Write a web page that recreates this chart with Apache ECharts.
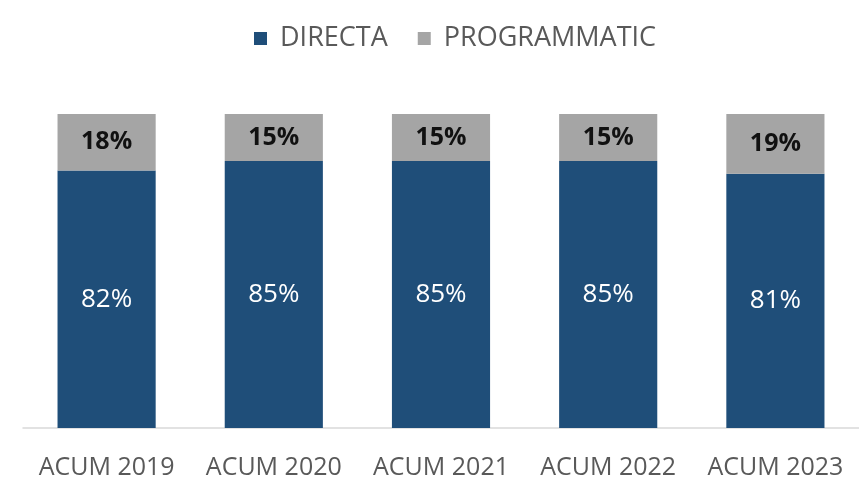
<!DOCTYPE html>
<html>
<head>
<meta charset="utf-8">
<script src="https://cdn.jsdelivr.net/npm/echarts@6/dist/echarts.min.js"></script>
<style>
  html, body { margin: 0; padding: 0; background: #fff; }
  #chart { width: 859px; height: 483px; }
</style>
</head>
<body>
<div id="chart"></div>
<script>
const categories = ['ACUM 2019', 'ACUM 2020', 'ACUM 2021', 'ACUM 2022', 'ACUM 2023']
const directa = [82, 85, 85, 85, 81]
const programmatic = [18, 15, 15, 15, 19]

const chart = echarts.init(document.getElementById('chart'))
const font = 'Open Sans, Noto Sans, sans-serif'

chart.setOption({
  animation: false,
  legend: {
    data: ['DIRECTA', 'PROGRAMMATIC'],
    top: 20,
    left: 249,
    itemWidth: 13,
    itemHeight: 13,
    itemGap: 30,
    icon: 'rect',
    textStyle: { color: '#595959', fontSize: 27, fontFamily: font, padding: [0, 0, 0, 8] }
  },
  grid: { left: 23, width: 843, top: 114, bottom: 55 },
  xAxis: {
    type: 'category',
    data: categories,
    axisLine: { lineStyle: { color: '#D9D9D9', width: 1.5 } },
    axisTick: { show: false },
    axisLabel: { color: '#595959', fontSize: 25, fontFamily: font, margin: 27, interval: 0, hideOverlap: false }
  },
  yAxis: { type: 'value', min: 0, max: 100, show: false, splitLine: { show: false } },
  series: [
    {
      name: 'DIRECTA',
      type: 'bar',
      stack: 'total',
      data: directa,
      barWidth: '58.7%',
      itemStyle: { color: '#1F4E79' },
      label: {
        show: true,
        position: 'inside',
        formatter: '{c}%',
        color: '#fff',
        fontSize: 26,
        fontFamily: font
      }
    },
    {
      name: 'PROGRAMMATIC',
      type: 'bar',
      stack: 'total',
      data: programmatic,
      itemStyle: { color: '#A5A5A5' },
      label: {
        show: true,
        position: 'inside',
        formatter: '{c}%',
        color: '#111',
        fontWeight: 'bold',
        fontSize: 25,
        fontFamily: font
      }
    }
  ]
})
</script>
</body>
</html>
